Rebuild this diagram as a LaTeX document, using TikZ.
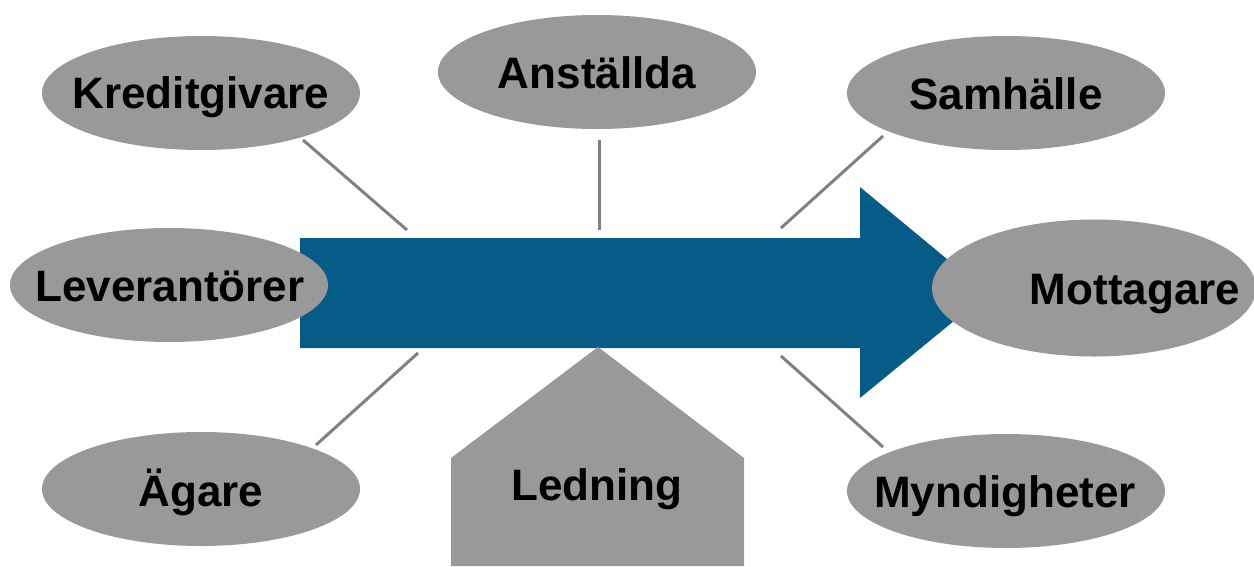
\documentclass[tikz,border=0pt]{standalone}
\usepackage{fontspec}
\setmainfont{Liberation Sans}
\usetikzlibrary{shapes.geometric}
\definecolor{flowblue}{HTML}{065B87}
\definecolor{partgray}{HTML}{999999}
\definecolor{linkgray}{HTML}{808080}
\tikzset{
  party/.style={ellipse, fill=partgray, draw=none, inner sep=0pt,
    minimum width=318pt, minimum height=114pt},
  tag/.style={anchor=base, inner sep=0pt, font=\bfseries\fontsize{44}{50}\selectfont},
  link/.style={draw=linkgray, line width=3pt},
}
\begin{document}
\begin{tikzpicture}[x=1pt, y=-1pt]
  \useasboundingbox (0,0) rectangle (1254,566);

  % connectors between the parties and the flow
  \coordinate (k1) at (303,140); \coordinate (k2) at (407,230);
  \coordinate (a1) at (599,140); \coordinate (a2) at (599,230);
  \coordinate (s1) at (883,136); \coordinate (s2) at (781,228);
  \coordinate (o1) at (418,353); \coordinate (o2) at (316,445);
  \coordinate (m1) at (781,356); \coordinate (m2) at (883,447);
  \draw[link] (k1) -- (k2);
  \draw[link] (a1) -- (a2);
  \draw[link] (s1) -- (s2);
  \draw[link] (o1) -- (o2);
  \draw[link] (m1) -- (m2);

  % the main flow arrow
  \fill[flowblue] (300,238) -- (860,238) -- (860,187) -- (988,293)
    -- (860,398) -- (860,348) -- (300,348) -- cycle;

  % management house
  \fill[partgray] (598,347) -- (744,458) -- (744,566) -- (451,566)
    -- (451,458) -- cycle;
  \node[tag] (ledning) at (597,500) {Ledning};

  % parties
  \node[party] (kred) at (201,93) {};
  \node[party] (anst) at (597,72) {};
  \node[party] (samh) at (1006,93) {};
  \node[party] (lev)  at (169,285) {};
  \node[party, minimum width=324pt, minimum height=137pt] (mott) at (1094,288) {};
  \node[party] (agare) at (201,489) {};
  \node[party] (mynd) at (1006,491) {};

  \node[tag] (tkred) at (201,108) {Kreditgivare};
  \node[tag] (tanst) at (597,88) {Anställda};
  \node[tag] (tsamh) at (1006,109) {Samhälle};
  \node[tag] (tlev)  at (170,301) {Leverantörer};
  \node[tag] (tmott) at (1135,304) {Mottagare};
  \node[tag] (tagare) at (201,506) {Ägare};
  \node[tag] (tmynd) at (1005,507) {Myndigheter};
\end{tikzpicture}
\end{document}
